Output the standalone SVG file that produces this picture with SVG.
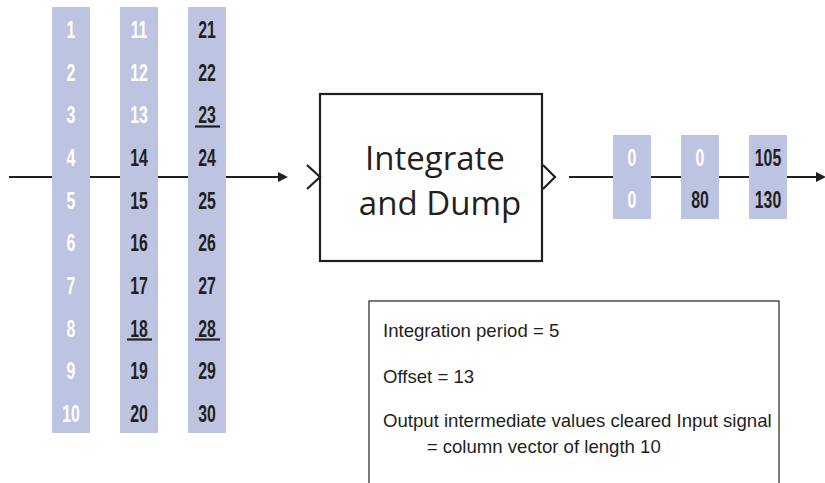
<svg xmlns="http://www.w3.org/2000/svg" width="825" height="483" viewBox="0 0 825 483">
<defs>
<style>
.col{fill:#bdc4e1}
.d{font-family:"Liberation Sans",Arial,sans-serif;font-size:24px;font-weight:bold;text-anchor:middle;fill:#231f20}
.w{fill:#ffffff}
.ul{stroke:#231f20;stroke-width:2.2}
.ln{stroke:#231f20;stroke-width:2.2;fill:none}
.box{fill:#fff;stroke:#231f20;stroke-width:2.2}
.t{font-family:"Open Sans","Liberation Sans",sans-serif;fill:#231f20}
.info{font-family:"Liberation Sans",Arial,sans-serif;font-size:18.6px;fill:#231f20}
</style>
<marker id="ah" markerWidth="10" markerHeight="10" refX="8" refY="5" orient="auto" markerUnits="userSpaceOnUse" viewBox="0 0 10 10"><path d="M0,0 L10,5 L0,10 z" fill="#231f20"/></marker>
</defs>
<g id="connectors">
<line class="ln" x1="9" y1="177" x2="286" y2="177" marker-end="url(#ah)"/>
<line class="ln" x1="569" y1="177" x2="824" y2="177" marker-end="url(#ah)"/>
</g>
<g id="input-col1">
<rect class="col" x="52" y="7" width="38" height="426"/>
<g transform="translate(71,0) scale(0.66,1)">
<text class="d w" x="0" y="38">1</text>
<text class="d w" x="0" y="80.7">2</text>
<text class="d w" x="0" y="123.3">3</text>
<text class="d w" x="0" y="166">4</text>
<text class="d w" x="0" y="208.7">5</text>
<text class="d w" x="0" y="251.3">6</text>
<text class="d w" x="0" y="294">7</text>
<text class="d w" x="0" y="336.7">8</text>
<text class="d w" x="0" y="379.3">9</text>
<text class="d w" x="0" y="422">10</text>
</g>
</g>
<g id="input-col2">
<rect class="col" x="120" y="7" width="38" height="426"/>
<g transform="translate(139,0) scale(0.66,1)">
<text class="d w" x="0" y="38">11</text>
<text class="d w" x="0" y="80.7">12</text>
<text class="d w" x="0" y="123.3">13</text>
<text class="d" x="0" y="166">14</text>
<text class="d" x="0" y="208.7">15</text>
<text class="d" x="0" y="251.3">16</text>
<text class="d" x="0" y="294">17</text>
<text class="d" x="0" y="336.7">18</text>
<text class="d" x="0" y="379.3">19</text>
<text class="d" x="0" y="422">20</text>
</g>
<line class="ul" x1="127" y1="339.5" x2="152" y2="339.5"/>
</g>
<g id="input-col3">
<rect class="col" x="188" y="7" width="38" height="426"/>
<g transform="translate(207,0) scale(0.66,1)">
<text class="d" x="0" y="38">21</text>
<text class="d" x="0" y="80.7">22</text>
<text class="d" x="0" y="123.3">23</text>
<text class="d" x="0" y="166">24</text>
<text class="d" x="0" y="208.7">25</text>
<text class="d" x="0" y="251.3">26</text>
<text class="d" x="0" y="294">27</text>
<text class="d" x="0" y="336.7">28</text>
<text class="d" x="0" y="379.3">29</text>
<text class="d" x="0" y="422">30</text>
</g>
<line class="ul" x1="195" y1="126.5" x2="220" y2="126.5"/>
<line class="ul" x1="195" y1="339.5" x2="220" y2="339.5"/>
</g>
<g id="block">
<rect class="box" x="320" y="94" width="222" height="167"/>
<polyline class="ln" points="307,165 320,177 307,189"/>
<polyline class="ln" points="543,165 555,177 543,189"/>
<text class="t" x="435" y="170" font-size="33" text-anchor="middle">Integrate</text>
<text class="t" x="440" y="215" font-size="33" text-anchor="middle">and Dump</text>
</g>
<g id="output-col1">
<rect class="col" x="613" y="135" width="38" height="84"/>
<g transform="translate(632,0) scale(0.66,1)">
<text class="d w" x="0" y="166">0</text>
<text class="d w" x="0" y="208">0</text>
</g>
</g>
<g id="output-col2">
<rect class="col" x="681" y="135" width="38" height="84"/>
<g transform="translate(700,0) scale(0.66,1)">
<text class="d w" x="0" y="166">0</text>
<text class="d" x="0" y="208">80</text>
</g>
</g>
<g id="output-col3">
<rect class="col" x="749" y="135" width="38" height="84"/>
<g transform="translate(768,0) scale(0.66,1)">
<text class="d" x="0" y="166">105</text>
<text class="d" x="0" y="208">130</text>
</g>
</g>
<g id="info">
<rect x="369" y="301" width="410" height="200" fill="#fff" stroke="#231f20" stroke-width="1.2"/>
<text class="info" x="383" y="336.7">Integration period = 5</text>
<text class="info" x="383" y="382.7">Offset = 13</text>
<text class="info" x="383" y="426.7">Output intermediate values cleared Input signal</text>
<text class="info" x="426.7" y="453.3">= column vector of length 10</text>
</g>
</svg>
